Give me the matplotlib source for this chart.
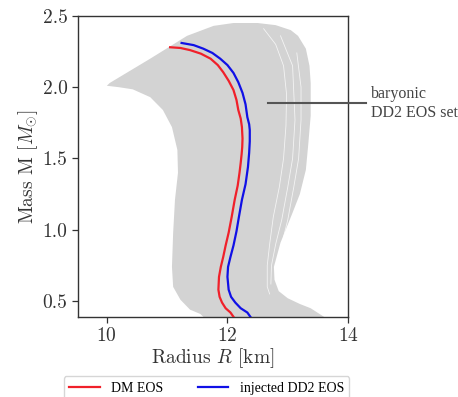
import matplotlib
matplotlib.use("Agg")
import matplotlib.pyplot as plt

plt.rcParams['font.family'] = 'serif'
plt.rcParams['font.serif'] = ['cmr10']
plt.rcParams['mathtext.fontset'] = 'cm'
plt.rcParams['axes.formatter.use_mathtext'] = True

# outline of the baryonic DD2 EOS ensemble (radius km, mass Msun)
band_radius = [10.00, 10.05, 10.72, 11.33, 11.77, 12.10, 12.50, 12.80, 13.05, 13.17, 13.30,
               13.36, 13.38, 13.38, 13.34, 13.30, 13.20, 13.08, 12.88, 12.77, 12.78, 12.85,
               13.00, 13.20, 13.38, 13.60, 13.70, 11.70, 11.55, 11.38, 11.22, 11.10, 11.08,
               11.10, 11.13, 11.18, 11.17, 11.08, 10.93, 10.72, 10.43, 10.20, 10.00]
band_mass = [2.010, 2.030, 2.200, 2.360, 2.430, 2.450, 2.450, 2.435, 2.400, 2.360, 2.270,
             2.150, 2.030, 1.800, 1.600, 1.420, 1.250, 1.120, 0.910, 0.740, 0.650, 0.570,
             0.520, 0.480, 0.450, 0.390, 0.350, 0.350, 0.410, 0.440, 0.510, 0.600, 0.740,
             0.980, 1.210, 1.400, 1.560, 1.720, 1.840, 1.930, 1.985, 2.000, 2.010]

# gaps between individual ensemble curves near the right edge
gap1_radius = [12.60, 12.80, 12.93, 12.98, 12.97, 12.93, 12.86, 12.76, 12.70, 12.66, 12.66, 12.70]
gap1_mass = [2.41, 2.30, 2.15, 1.95, 1.73, 1.50, 1.30, 1.09, 0.90, 0.75, 0.60, 0.55]
gap2_radius = [12.88, 13.08, 13.12, 13.08, 13.00, 12.90, 12.80, 12.73, 12.72]
gap2_mass = [2.36, 2.15, 1.77, 1.50, 1.30, 1.07, 0.90, 0.75, 0.62]
gap3_radius = [13.15, 13.22, 13.22, 13.18, 13.10, 13.00, 12.93]
gap3_mass = [2.24, 2.00, 1.77, 1.50, 1.30, 1.07, 0.95]

# DM EOS
dm_radius = [11.05, 11.22, 11.38, 11.56, 11.72, 11.84, 11.93, 12.02, 12.10, 12.15, 12.18,
             12.22, 12.24, 12.25, 12.245, 12.235, 12.22, 12.20, 12.17, 12.12, 12.07, 12.02,
             11.97, 11.93, 11.89, 11.86, 11.85, 11.87, 11.91, 11.97, 12.05, 12.10]
dm_mass = [2.28, 2.275, 2.26, 2.235, 2.20, 2.155, 2.105, 2.045, 1.98, 1.91, 1.84,
           1.78, 1.72, 1.64, 1.58, 1.53, 1.47, 1.40, 1.31, 1.21, 1.09, 0.98,
           0.89, 0.81, 0.74, 0.67, 0.58, 0.53, 0.49, 0.45, 0.42, 0.39]

# injected DD2 EOS
dd2_radius = [11.24, 11.44, 11.60, 11.75, 11.88, 12.00, 12.10, 12.18, 12.25, 12.30, 12.33,
              12.36, 12.37, 12.37, 12.36, 12.34, 12.30, 12.24, 12.19, 12.15, 12.10, 12.05,
              12.01, 12.00, 12.02, 12.06, 12.13, 12.22, 12.33, 12.38]
dd2_mass = [2.31, 2.295, 2.27, 2.24, 2.20, 2.155, 2.10, 2.035, 1.96, 1.88, 1.79,
            1.74, 1.70, 1.62, 1.54, 1.44, 1.32, 1.21, 1.09, 0.99, 0.89, 0.81,
            0.74, 0.67, 0.58, 0.53, 0.49, 0.45, 0.42, 0.39]

fig = plt.figure(figsize=(4.58, 3.97), dpi=100)
ax = fig.add_axes([0.170, 0.202, 0.590, 0.758])

ax.fill(band_radius, band_mass, color='#d3d3d3', lw=0, zorder=1)
for gr, gm in [(gap1_radius, gap1_mass), (gap2_radius, gap2_mass), (gap3_radius, gap3_mass)]:
    ax.plot(gr, gm, color='white', lw=0.6, alpha=0.75, zorder=2)

ax.plot(dm_radius, dm_mass, color='#f0202a', lw=1.6, label='DM EOS', zorder=3)
ax.plot(dd2_radius, dd2_mass, color='#1010e6', lw=1.6, label='injected DD2 EOS', zorder=3)

# annotation for the ensemble
ax.plot([12.67, 14.3], [1.886, 1.886], color='#555555', lw=1.5, clip_on=False, zorder=4)
ax.text(14.38, 1.886, "baryonic\nDD2 EOS set", ha='left', va='center',
        family='Liberation Serif', fontsize=11.5, color='#444444', linespacing=1.3)

ax.set_xlim(9.52, 14.0)
ax.set_ylim(0.39, 2.5)
ax.set_xticks([10, 12, 14])
ax.set_yticks([0.5, 1.0, 1.5, 2.0, 2.5])
ax.set_yticklabels(['0.5', '1.0', '1.5', '2.0', '2.5'])
ax.tick_params(labelsize=14, colors='#333333', length=4, width=0.9)
for s in ax.spines.values():
    s.set_color('#333333')
    s.set_linewidth(1.0)

ax.set_xlabel('Radius $R$ [km]', fontsize=14, color='#333333', labelpad=1)
ax.set_ylabel('Mass M [$M_{\\odot}$]', fontsize=14, color='#333333', labelpad=2)

fig.legend(loc='upper center', bbox_to_anchor=(0.451, 0.052), ncol=2, borderaxespad=0,
           prop={'family': 'Liberation Serif', 'size': 10}, frameon=True,
           edgecolor='#cccccc', handlelength=2.2, columnspacing=2.5)

fig.savefig('out.png', dpi=100)
